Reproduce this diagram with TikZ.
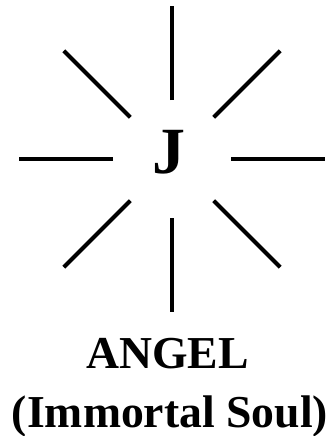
\documentclass[tikz,border=0pt]{standalone}
\usepackage{fontspec}
\setmainfont{Liberation Serif}
\usetikzlibrary{calc}
\begin{document}
\begin{tikzpicture}[x=1pt,y=-1pt,
  ray/.style={line width=4pt,black},
  lbl/.style={inner sep=0pt,anchor=base,font=\fontsize{45.7}{55}\selectfont\bfseries}]
\useasboundingbox (0,0) rectangle (335,436);
\coordinate (c) at (172,159);
\foreach \a in {0,45,...,315}{
  \draw[ray] ($(c)+(\a:59)$) -- ($(c)+(\a:153)$);
}
\node[inner sep=0pt,anchor=base,font=\fontsize{66}{70}\selectfont\bfseries] (j) at (169,173) {J};
\node[lbl] (angel) at (167.5,368) {ANGEL};
\node[lbl] (soul) at (170,427) {(Immortal Soul)};
\end{tikzpicture}
\end{document}
